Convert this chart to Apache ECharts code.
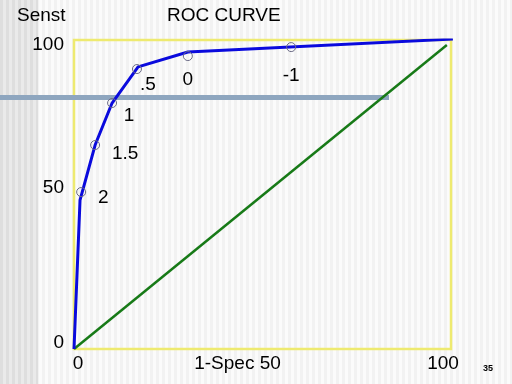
<!DOCTYPE html>
<html>
<head>
<meta charset="utf-8">
<script src="https://cdn.jsdelivr.net/npm/echarts@6/dist/echarts.min.js"></script>
<style>
html,body{margin:0;padding:0;}
body{
  width:512px;height:384px;overflow:hidden;
  background:
    repeating-linear-gradient(90deg,#dedede 0px,#dedede 3px,#eaeaea 3px,#eaeaea 6px) 0 0/38px 100% no-repeat,
    repeating-linear-gradient(90deg,#f2f2f2 0px,#f2f2f2 3px,#fbfbfb 3px,#fbfbfb 6px);
}
#chart{width:512px;height:384px;}
</style>
</head>
<body>
<div id="chart"></div>
<script>
// ROC curve (vertices of the blue line), in % (1-Spec, Sens)
const rocX = [0, 1.6, 5.6, 10.1, 17.0, 30.2, 100.5];
const rocY = [0, 48.2, 66.0, 79.6, 91.3, 96.1, 100.3];
// threshold points (hollow circles) and their labels
const cutLabels = ['2', '1.5', '1', '.5', '0', '-1'];
const cutX = [1.9, 5.6, 10.1, 16.7, 30.2, 57.6];
const cutY = [50.8, 66.0, 79.6, 90.6, 94.8, 97.7];
// chance diagonal
const diagX = [0, 98.9];
const diagY = [0, 98.4];
// tick labels
const yTicks = [0, 50, 100];
const xTicks = [0, 50, 100];

const chart = echarts.init(document.getElementById('chart'));
const font = 'Liberation Sans, Arial, sans-serif';

// per-label offsets (styling only)
const lblOff = [[22,6],[30,9],[17,13],[11,16],[0,24],[0,29]];

const yRich = {
  t100:{fontSize:19,color:'#000',fontFamily:font,padding:[10,0,0,0]},
  t50:{fontSize:19,color:'#000',fontFamily:font,padding:[0,0,14,0]},
  t0:{fontSize:19,color:'#000',fontFamily:font,padding:[0,0,12,0]}
};
const xRich = {
  t0:{fontSize:19,color:'#000',fontFamily:font,padding:[0,0,0,8]},
  t50:{fontSize:19,color:'#000',fontFamily:font,padding:[0,50,0,0]},
  t100:{fontSize:19,color:'#000',fontFamily:font,padding:[0,16,0,0]}
};

chart.setOption({
  animation:false,
  backgroundColor:'transparent',
  grid:{left:74,right:61,top:40,bottom:35,show:true,borderColor:'#eeea70',borderWidth:2.5,backgroundColor:'transparent'},
  xAxis:{
    type:'value',min:0,max:100,interval:50,
    axisLine:{show:false},axisTick:{show:false},splitLine:{show:false},
    axisLabel:{margin:5,formatter:v=>{
      if(!xTicks.includes(v)) return '';
      return v===50 ? '{t50|1-Spec '+v+'}' : '{t'+v+'|'+v+'}';
    },rich:xRich}
  },
  yAxis:{
    type:'value',min:0,max:100,interval:50,
    axisLine:{show:false},axisTick:{show:false},splitLine:{show:false},
    axisLabel:{margin:10,formatter:v=>yTicks.includes(v)?'{t'+v+'|'+v+'}':'',rich:yRich}
  },
  graphic:[
    {type:'rect',shape:{x:0,y:95,width:389,height:5},style:{fill:'#8ea6bf'},z:1},
    {type:'text',left:17,top:6,style:{text:'Senst',fontSize:19,fontFamily:font,fill:'#000'}},
    {type:'text',left:167,top:6,style:{text:'ROC CURVE',fontSize:19,fontFamily:font,fill:'#000'}},
    {type:'text',left:483,top:364,style:{text:'35',fontSize:9,fontWeight:'bold',fontFamily:font,fill:'#000'}}
  ],
  series:[
    {
      type:'line',data:diagX.map((x,i)=>[x,diagY[i]]),
      showSymbol:false,lineStyle:{color:'#177a17',width:2.5},z:3
    },
    {
      type:'line',data:rocX.map((x,i)=>[x,rocY[i]]),
      showSymbol:false,lineStyle:{color:'#0a0add',width:3},z:4
    },
    {
      type:'scatter',
      data:cutX.map((x,i)=>({
        value:[x,cutY[i]],
        label:{show:true,formatter:cutLabels[i],position:'inside',offset:lblOff[i],fontSize:19,fontFamily:font,color:'#000',textBorderWidth:0,textBorderColor:'transparent',opacity:1}
      })),
      symbol:'circle',symbolSize:9,
      itemStyle:{color:'rgba(255,255,255,0)',borderColor:'#6a6a85',borderWidth:1,opacity:1},
      emphasis:{disabled:true},
      z:5
    }
  ]
});
</script>
</body>
</html>
